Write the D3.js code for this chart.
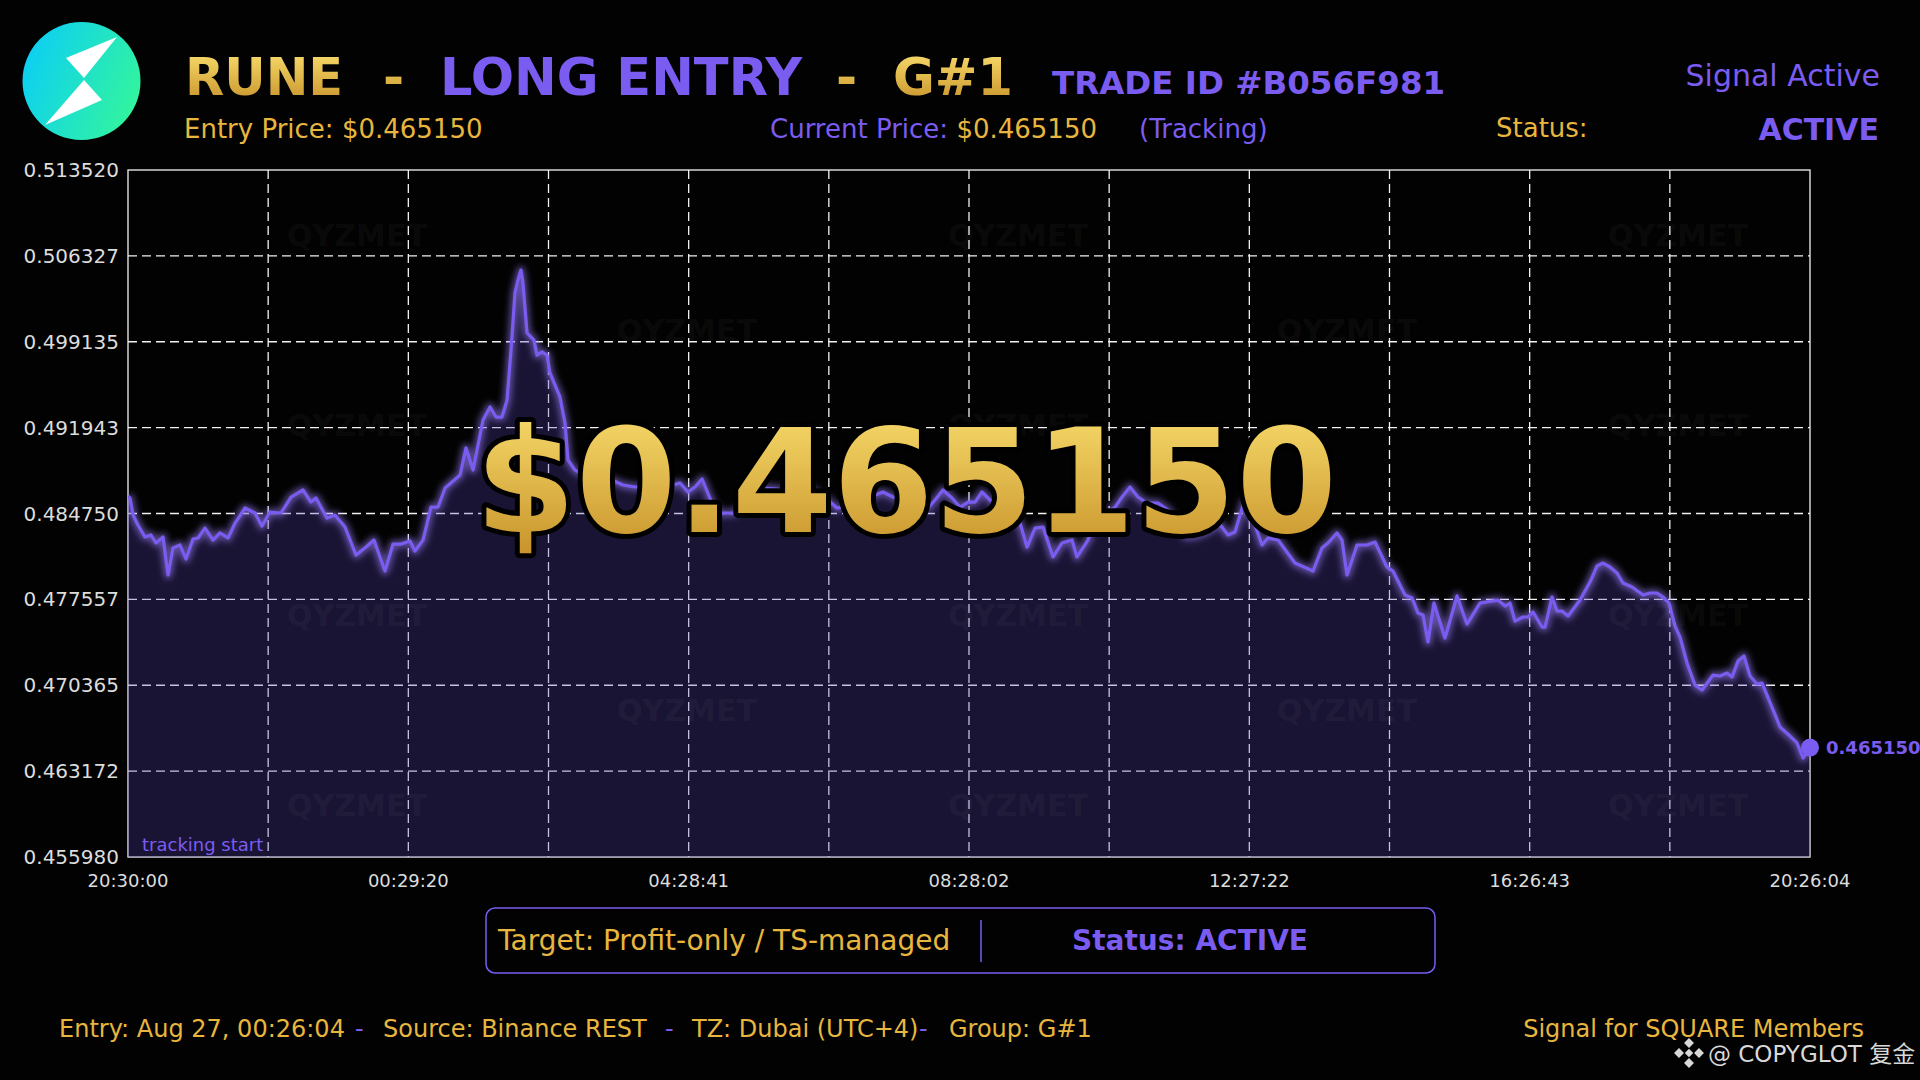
<!doctype html>
<html lang="en">
<head>
<meta charset="UTF-8">
<title>RUNE - LONG ENTRY - G#1</title>
<style>
  html, body { margin: 0; padding: 0; background: #020202; }
  svg { display: block; font-family: "DejaVu Sans", "Noto Sans CJK SC", sans-serif; }
</style>
</head>
<body>
<svg id="chart" width="1920" height="1080"></svg>
<script src="https://cdn.jsdelivr.net/npm/d3@7"></script>
<script>
// minutes after 20:30:00 (tracking start) and price
const minutes = [
  0, 1.7, 4.3, 8.5, 14.5, 19.6, 23.9, 29.9, 34.2, 38.4,
  44.4, 49.5, 55.5, 59.8, 65.7, 72.6, 78.5, 85.4, 91.4, 99.9,
  108.4, 114.4, 121.2, 130.6, 139.2, 149.4, 156.2, 160.5, 169.9, 176.7,
  185.3, 194.7, 203.2, 210.0, 219.4, 226.3, 233.1, 240.8, 245.0, 251.9,
  258.7, 264.7, 270.7, 283.5, 288.6, 294.6, 303.1, 309.1, 314.2, 319.3,
  323.6, 327.0, 330.4, 333.0, 335.5, 337.2, 340.7, 344.1, 346.6, 349.2,
  353.5, 357.7, 360.3, 368.8, 373.1, 375.7, 381.6, 394.4, 403.0, 413.2,
  422.6, 432.9, 445.7, 455.9, 465.3, 471.3, 478.1, 484.1, 490.1, 498.6,
  505.4, 516.5, 526.8, 535.3, 542.2, 554.1, 565.2, 578.0, 588.3, 597.7,
  605.3, 610.5, 620.7, 629.2, 637.8, 644.6, 653.1, 663.4, 671.9, 683.0,
  689.0, 695.8, 703.5, 710.4, 717.2, 723.2, 729.1, 736.0, 744.5, 753.0,
  761.6, 767.6, 774.4, 781.2, 789.8, 797.4, 806.0, 810.2, 819.6, 823.9,
  832.4, 842.7, 848.7, 855.5, 862.3, 870.0, 879.4, 887.9, 895.6, 904.2,
  913.6, 923.8, 930.6, 939.2, 945.1, 952.8, 959.7, 968.2, 973.3, 981.9,
  996.4, 1011.7, 1019.4, 1024.5, 1032.2, 1036.5, 1040.8, 1049.3, 1057.8, 1064.7,
  1074.9, 1080.0, 1090.3, 1096.3, 1101.4, 1105.7, 1109.9, 1115.0, 1124.4, 1134.7,
  1143.2, 1154.3, 1169.7, 1175.7, 1179.9, 1184.2, 1191.0, 1195.3, 1199.6, 1207.3,
  1209.8, 1215.8, 1220.1, 1224.3, 1229.5, 1239.7, 1248.2, 1254.2, 1259.3, 1265.3,
  1271.3, 1276.4, 1284.1, 1293.5, 1299.5, 1305.4, 1310.6, 1315.7, 1320.8, 1325.1,
  1331.1, 1337.9, 1343.9, 1353.3, 1359.2, 1365.2, 1369.5, 1374.6, 1379.7, 1384.9,
  1390.8, 1395.1, 1403.6, 1410.5, 1419.0, 1425.0, 1430.1, 1436.07
];
const prices = [
  0.48621, 0.48605, 0.48462, 0.48379, 0.48278, 0.48295, 0.48228, 0.48278, 0.47960, 0.48186,
  0.48211, 0.48094, 0.48261, 0.48270, 0.48353, 0.48253, 0.48312, 0.48270, 0.48395, 0.48521,
  0.48479, 0.48370, 0.48487, 0.48479, 0.48613, 0.48672, 0.48571, 0.48605, 0.48437, 0.48462,
  0.48362, 0.48127, 0.48194, 0.48253, 0.47993, 0.48219, 0.48219, 0.48245, 0.48161, 0.48253,
  0.48529, 0.48529, 0.48688, 0.48797, 0.49024, 0.48839, 0.49258, 0.49367, 0.49283, 0.49283,
  0.49426, 0.49844, 0.50322, 0.50431, 0.50514, 0.50406, 0.49987, 0.49953, 0.49928, 0.49802,
  0.49828, 0.49802, 0.49652, 0.49451, 0.49233, 0.48923, 0.48839, 0.48772, 0.48739, 0.48755,
  0.48714, 0.48697, 0.48705, 0.48672, 0.48714, 0.48730, 0.48655, 0.48697, 0.48764, 0.48563,
  0.48479, 0.48479, 0.48546, 0.48630, 0.48688, 0.48680, 0.48655, 0.48714, 0.48638, 0.48588,
  0.48521, 0.48529, 0.48563, 0.48605, 0.48630, 0.48655, 0.48613, 0.48588, 0.48546, 0.48521,
  0.48588, 0.48672, 0.48605, 0.48529, 0.48571, 0.48571, 0.48655, 0.48588, 0.48546, 0.48462,
  0.48395, 0.48194, 0.48353, 0.48362, 0.48111, 0.48228, 0.48253, 0.48111, 0.48253, 0.48362,
  0.48462, 0.48529, 0.48613, 0.48697, 0.48613, 0.48563, 0.48563, 0.48504, 0.48379, 0.48278,
  0.48295, 0.48337, 0.48404, 0.48295, 0.48320, 0.48571, 0.48446, 0.48211, 0.48270, 0.48253,
  0.48060, 0.47993, 0.48186, 0.48228, 0.48312, 0.48253, 0.47960, 0.48211, 0.48211, 0.48236,
  0.48027, 0.47993, 0.47792, 0.47767, 0.47641, 0.47625, 0.47399, 0.47725, 0.47432, 0.47784,
  0.47549, 0.47725, 0.47750, 0.47700, 0.47725, 0.47574, 0.47608, 0.47608, 0.47650, 0.47524,
  0.47524, 0.47775, 0.47658, 0.47658, 0.47616, 0.47750, 0.47901, 0.48035, 0.48060, 0.48027,
  0.47977, 0.47893, 0.47859, 0.47792, 0.47809, 0.47809, 0.47775, 0.47725, 0.47533, 0.47440,
  0.47223, 0.47038, 0.46997, 0.47122, 0.47114, 0.47139, 0.47105, 0.47239, 0.47281, 0.47114,
  0.47047, 0.47055, 0.46854, 0.46687, 0.46611, 0.46553, 0.46427, 0.46515
];
const yTickLabels = ["0.455980", "0.463172", "0.470365", "0.477557", "0.484750",
                     "0.491943", "0.499135", "0.506327", "0.513520"];
const xTickLabels = ["20:30:00", "00:29:20", "04:28:41", "08:28:02", "12:27:22", "16:26:43", "20:26:04"];
const startTime = new Date(2025, 7, 26, 20, 30, 0);
const endTime = new Date(2025, 7, 27, 20, 26, 4);
const lastPrice = "0.465150";

const PURPLE = "#7b5cf0";
const GOLD = "#e8b63e";

const svg = d3.select("#chart");
svg.append("rect").attr("width", 1920).attr("height", 1080).attr("fill", "#020202");

const defs = svg.append("defs");
const gold = defs.append("linearGradient").attr("id", "gold").attr("x1", 0).attr("y1", 0).attr("x2", 0).attr("y2", 1);
gold.append("stop").attr("offset", "0%").attr("stop-color", "#fbe070");
gold.append("stop").attr("offset", "100%").attr("stop-color", "#c48e26");
const logoGrad = defs.append("linearGradient").attr("id", "logo").attr("x1", 0).attr("y1", 0.3).attr("x2", 1).attr("y2", 0.7);
logoGrad.append("stop").attr("offset", "0%").attr("stop-color", "#0ccff4");
logoGrad.append("stop").attr("offset", "100%").attr("stop-color", "#33f59c");
defs.append("filter").attr("id", "glow").attr("x", "-5%").attr("y", "-20%").attr("width", "110%").attr("height", "140%")
  .append("feGaussianBlur").attr("stdDeviation", 3);
defs.append("clipPath").attr("id", "plotclip").append("rect")
  .attr("x", 128).attr("y", 170).attr("width", 1682).attr("height", 687);

// ---- header ----
svg.append("circle").attr("cx", 81.5).attr("cy", 81).attr("r", 59).attr("fill", "url(#logo)");
svg.append("path").attr("fill", "#fff").attr("d", "M117,37 L66,58 L84,78 Z");
svg.append("path").attr("fill", "#fff").attr("d", "M84,80 L102,100 L45,125 Z");

const title = [
  {t: "RUNE", x: 185, fill: "url(#gold)"},
  {t: "-", x: 383, fill: "url(#gold)"},
  {t: "LONG ENTRY", x: 440, fill: PURPLE},
  {t: "-", x: 836, fill: "url(#gold)"},
  {t: "G#1", x: 893, fill: "url(#gold)"}
];
svg.selectAll("text.title").data(title).enter().append("text")
  .attr("x", d => d.x).attr("y", 95).attr("font-size", 51).attr("font-weight", "bold")
  .attr("fill", d => d.fill).text(d => d.t);
svg.append("text").attr("x", 1052).attr("y", 94).attr("font-size", 32.5).attr("font-weight", "bold")
  .attr("fill", PURPLE).text("TRADE ID #B056F981");
svg.append("text").attr("x", 1880).attr("y", 86).attr("text-anchor", "end").attr("font-size", 30)
  .attr("fill", PURPLE).text("Signal Active");

svg.append("text").attr("x", 184).attr("y", 138).attr("font-size", 26).attr("fill", GOLD)
  .text("Entry Price: $0.465150");
const cur = svg.append("text").attr("x", 770).attr("y", 138).attr("font-size", 26);
cur.append("tspan").attr("fill", PURPLE).text("Current Price: ");
cur.append("tspan").attr("fill", GOLD).text("$0.465150");
svg.append("text").attr("x", 1139).attr("y", 138).attr("font-size", 26).attr("fill", PURPLE).text("(Tracking)");
svg.append("text").attr("x", 1496).attr("y", 137).attr("font-size", 26).attr("fill", GOLD).text("Status:");
svg.append("text").attr("x", 1879).attr("y", 140).attr("text-anchor", "end").attr("font-size", 30)
  .attr("font-weight", "bold").attr("fill", PURPLE).text("ACTIVE");

// ---- chart ----
const margin = {left: 128, right: 1810, top: 170, bottom: 857};
const x = d3.scaleTime().domain([startTime, endTime]).range([margin.left, margin.right]);
const y = d3.scaleLinear().domain([+yTickLabels[0], +yTickLabels[yTickLabels.length - 1]])
  .range([margin.bottom, margin.top]);

const data = minutes.map((m, i) => ({t: new Date(+startTime + m * 60000), v: prices[i]}));
const span = endTime - startTime;
const xGrid = d3.range(13).map(i => new Date(+startTime + i * span / 12));

const grid = svg.append("g");
grid.selectAll("line.v").data(xGrid.slice(1, -1)).enter().append("line")
  .attr("x1", d => x(d)).attr("x2", d => x(d)).attr("y1", margin.top).attr("y2", margin.bottom)
  .attr("stroke", "#f2f2f2").attr("stroke-width", 1.3).attr("stroke-dasharray", "9,5");
grid.selectAll("line.h").data(yTickLabels.slice(1, -1)).enter().append("line")
  .attr("y1", d => y(+d)).attr("y2", d => y(+d)).attr("x1", margin.left).attr("x2", margin.right)
  .attr("stroke", "#f2f2f2").attr("stroke-width", 1.3).attr("stroke-dasharray", "9,5");
svg.append("rect").attr("x", margin.left).attr("y", margin.top)
  .attr("width", margin.right - margin.left).attr("height", margin.bottom - margin.top)
  .attr("fill", "none").attr("stroke", "#f4f4f4").attr("stroke-width", 1.3);

const plot = svg.append("g").attr("clip-path", "url(#plotclip)");
plot.append("path").datum(data)
  .attr("d", d3.area().x(d => x(d.t)).y0(margin.bottom).y1(d => y(d.v)))
  .attr("fill", "#5a44b8").attr("fill-opacity", 0.28);

// watermark
const wm = [];
[235, 425, 615, 805].forEach(yy => [357, 1018, 1678].forEach(xx => wm.push([xx, yy])));
[330, 710].forEach(yy => [687, 1347].forEach(xx => wm.push([xx, yy])));
svg.selectAll("text.wm").data(wm).enter().append("text")
  .attr("x", d => d[0]).attr("y", d => d[1] + 11).attr("text-anchor", "middle")
  .attr("font-size", 30).attr("font-weight", "bold").attr("fill", "#ffffff").attr("fill-opacity", 0.055)
  .text("QYZMET");

const line = d3.line().x(d => x(d.t)).y(d => y(d.v));
plot.append("path").datum(data).attr("d", line).attr("fill", "none")
  .attr("stroke", "#9b82ff").attr("stroke-width", 8).attr("stroke-opacity", 0.55)
  .attr("stroke-linejoin", "round").attr("filter", "url(#glow)");
plot.append("path").datum(data).attr("d", line).attr("fill", "none")
  .attr("stroke", PURPLE).attr("stroke-width", 3.2).attr("stroke-linejoin", "round");

// last point
const last = data[data.length - 1];
svg.append("circle").attr("cx", x(last.t)).attr("cy", y(+lastPrice)).attr("r", 9).attr("fill", PURPLE);
svg.append("text").attr("x", x(last.t) + 16).attr("y", y(+lastPrice) + 6).attr("font-size", 18)
  .attr("font-weight", "bold").attr("fill", PURPLE).text(lastPrice);

svg.append("text").attr("x", 142).attr("y", 851).attr("font-size", 18).attr("fill", PURPLE).text("tracking start");

// axes labels
svg.selectAll("text.ylab").data(yTickLabels).enter().append("text")
  .attr("x", 119).attr("y", d => y(+d) + 7).attr("text-anchor", "end")
  .attr("font-size", 20).attr("fill", "#dcdcdc").text(d => d);
svg.selectAll("text.xlab").data(xTickLabels).enter().append("text")
  .attr("x", (d, i) => x(xGrid[i * 2])).attr("y", 887).attr("text-anchor", "middle")
  .attr("font-size", 18).attr("fill", "#dcdcdc").text(d => d);

// big price
svg.append("text").attr("x", 906).attr("y", 532).attr("text-anchor", "middle")
  .attr("font-size", 145).attr("font-weight", "bold").attr("fill", "url(#gold)")
  .attr("stroke", "#000").attr("stroke-width", 10).attr("stroke-linejoin", "round")
  .attr("paint-order", "stroke").text("$" + lastPrice);

// ---- status box ----
svg.append("rect").attr("x", 486).attr("y", 908).attr("width", 949).attr("height", 65).attr("rx", 9)
  .attr("fill", "#020202").attr("stroke", PURPLE).attr("stroke-width", 1.5);
svg.append("line").attr("x1", 981).attr("x2", 981).attr("y1", 920).attr("y2", 962)
  .attr("stroke", PURPLE).attr("stroke-width", 1.5);
svg.append("text").attr("x", 498).attr("y", 950).attr("font-size", 28).attr("fill", GOLD)
  .text("Target: Profit-only / TS-managed");
svg.append("text").attr("x", 1190).attr("y", 950).attr("text-anchor", "middle").attr("font-size", 28)
  .attr("font-weight", "bold").attr("fill", PURPLE).text("Status: ACTIVE");

// ---- footer ----
const foot = [
  {t: "Entry: Aug 27, 00:26:04", x: 59, c: GOLD},
  {t: "-", x: 355, c: PURPLE},
  {t: "Source: Binance REST", x: 383, c: GOLD},
  {t: "-", x: 665, c: PURPLE},
  {t: "TZ: Dubai (UTC+4)", x: 692, c: GOLD},
  {t: "-", x: 919, c: PURPLE},
  {t: "Group: G#1", x: 949, c: GOLD}
];
svg.selectAll("text.foot").data(foot).enter().append("text")
  .attr("x", d => d.x).attr("y", 1037).attr("font-size", 24).attr("fill", d => d.c).text(d => d.t);
svg.append("text").attr("x", 1864).attr("y", 1037).attr("text-anchor", "end").attr("font-size", 24)
  .attr("fill", GOLD).text("Signal for SQUARE Members");

// platform mark
const bx = 1689, by = 1053;
const mark = svg.append("g").attr("fill", "#d8d8d8");
[[0, -10], [-10, 0], [10, 0], [0, 10]].forEach(p => {
  mark.append("rect").attr("x", bx + p[0] - 3.5).attr("y", by + p[1] - 3.5).attr("width", 7).attr("height", 7)
    .attr("transform", `rotate(45 ${bx + p[0]} ${by + p[1]})`);
});
mark.append("rect").attr("x", bx - 3).attr("y", by - 3).attr("width", 6).attr("height", 6)
  .attr("transform", `rotate(45 ${bx} ${by})`);
svg.append("text").attr("x", 1708).attr("y", 1062).attr("font-size", 23).attr("fill", "#d8d8d8")
  .text("@ COPYGLOT 复金");
</script>
</body>
</html>
